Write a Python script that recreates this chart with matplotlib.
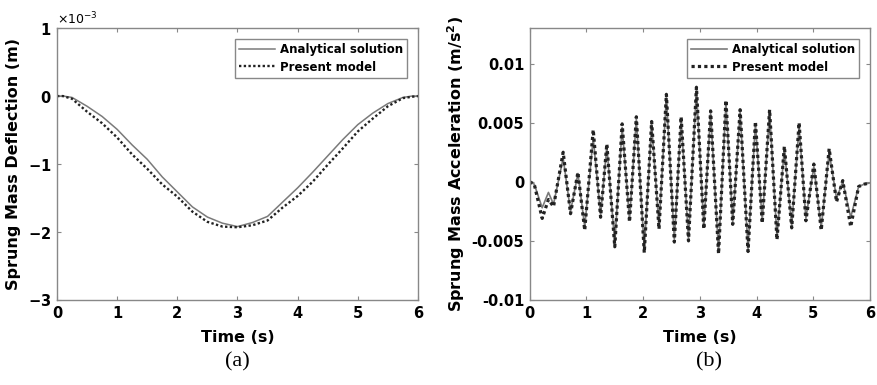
import matplotlib
matplotlib.use("Agg")
import matplotlib.pyplot as plt
from matplotlib.ticker import ScalarFormatter

plt.rcParams['font.family'] = 'DejaVu Sans'
plt.rcParams['axes.unicode_minus'] = False

# (a) sprung mass deflection, values in 1e-3 m
t_defl = [0, 0.1, 0.25, 0.5, 0.75, 1.0, 1.25, 1.5, 1.75, 2.0, 2.25, 2.5, 2.75,
          3.0, 3.25, 3.5, 3.75, 4.0, 4.25, 4.5, 4.75, 5.0, 5.25, 5.5, 5.75, 5.9, 6.0]
defl_analytical = [0, 0, -0.02, -0.15, -0.30, -0.49, -0.72, -0.93, -1.19, -1.41, -1.63,
                   -1.78, -1.87, -1.92, -1.86, -1.77, -1.56, -1.35, -1.12, -0.88, -0.64,
                   -0.42, -0.25, -0.11, -0.02, 0, 0]
defl_present = [0, 0, -0.04, -0.23, -0.40, -0.61, -0.86, -1.07, -1.30, -1.48, -1.70,
                -1.85, -1.92, -1.93, -1.90, -1.83, -1.64, -1.47, -1.26, -1.01, -0.77,
                -0.52, -0.33, -0.15, -0.03, -0.01, 0]

# (b) sprung mass acceleration, m/s^2 (turning points)
t_acc = [0, 0.08, 0.22, 0.33, 0.42, 0.59, 0.72, 0.85, 0.97, 1.12, 1.25, 1.36, 1.50,
         1.63, 1.76, 1.88, 2.02, 2.15, 2.28, 2.41, 2.55, 2.67, 2.80, 2.94, 3.07, 3.19,
         3.33, 3.46, 3.58, 3.71, 3.85, 3.98, 4.10, 4.23, 4.36, 4.49, 4.62, 4.75, 4.87,
         5.01, 5.14, 5.28, 5.41, 5.52, 5.66, 5.80, 5.90, 6.0]
acc_present = [0, -0.0002, -0.0031, -0.0015, -0.0021, 0.0025, -0.0027, 0.0008, -0.0041,
               0.0044, -0.0030, 0.0032, -0.0055, 0.0049, -0.0034, 0.0055, -0.0060, 0.0051,
               -0.0040, 0.0074, -0.0051, 0.0055, -0.0050, 0.0080, -0.0040, 0.0060, -0.0061,
               0.0069, -0.0036, 0.0061, -0.0059, 0.0051, -0.0035, 0.0061, -0.0049, 0.0030,
               -0.0039, 0.0050, -0.0033, 0.0015, -0.0041, 0.0028, -0.0017, 0.0001, -0.0038,
               -0.0004, -0.0002, -0.0001]
acc_analytical = [0, -0.0002, -0.0022, -0.0009, -0.0019, 0.0020, -0.0025, 0.0007, -0.0038,
                  0.0037, -0.0028, 0.0030, -0.0052, 0.0046, -0.0032, 0.0053, -0.0057, 0.0049,
                  -0.0038, 0.0072, -0.0049, 0.0053, -0.0048, 0.0078, -0.0038, 0.0058, -0.0059,
                  0.0067, -0.0034, 0.0059, -0.0057, 0.0049, -0.0033, 0.0059, -0.0047, 0.0028,
                  -0.0037, 0.0047, -0.0031, 0.0013, -0.0039, 0.0025, -0.0014, 0.0000, -0.0030,
                  -0.0004, -0.0002, -0.0001]

acc_ticks = [-0.01, -0.005, 0, 0.005, 0.01]
acc_ticklabels = ['-0.01', '-0.005', '0', '0.005', '0.01']

fig = plt.figure(figsize=(8.77, 3.85), dpi=100)
ax1 = fig.add_axes([0.065, 0.2208, 0.4116, 0.7062])
ax2 = fig.add_axes([0.604, 0.2208, 0.388, 0.7062])

dot = (0, (1, 1))
ax1.plot(t_defl, [v * 1e-3 for v in defl_analytical], color='#7a7a7a', lw=1.1,
         label='Analytical solution')
ax1.plot(t_defl, [v * 1e-3 for v in defl_present], color='#222222', lw=1.7,
         linestyle=dot, label='Present model')
ax1.set_ylim(-3e-3, 1e-3)
ax1.set_yticks([-3e-3, -2e-3, -1e-3, 0, 1e-3])
fmt = ScalarFormatter(useMathText=True)
fmt.set_powerlimits((-2, 2))
ax1.yaxis.set_major_formatter(fmt)
ax1.yaxis.get_offset_text().set_fontsize(9)
ax1.set_ylabel('Sprung Mass Deflection (m)', fontsize=11.5, fontweight='bold', labelpad=5)

ax2.plot(t_acc, acc_analytical, color='#7a7a7a', lw=1.2, label='Analytical solution')
ax2.plot(t_acc, acc_present, color='#222222', lw=2.3, linestyle=dot,
         label='Present model')
ax2.set_ylim(-0.01, 0.013)
ax2.set_yticks(acc_ticks)
ax2.set_yticklabels(acc_ticklabels)
ax2.set_ylabel('Sprung Mass Acceleration (m/s$^\\mathbf{2}$)', fontsize=11.5,
               fontweight='bold', labelpad=3)

for ax in (ax1, ax2):
    ax.set_xlim(0, 6)
    ax.set_xticks(range(7))
    ax.set_xlabel('Time (s)', fontsize=11.5, fontweight='bold', labelpad=7)
    ax.tick_params(direction='in', top=True, right=True, length=3, width=0.8,
                   color='#888888', labelsize=10.5, pad=4)
    for lab in ax.get_xticklabels() + ax.get_yticklabels():
        lab.set_fontweight('bold')
    for s in ax.spines.values():
        s.set_color('#888888')
        s.set_linewidth(1.0)
    leg = ax.legend(loc='upper right', fancybox=False, framealpha=1,
                    edgecolor='#888888', handlelength=3.0, borderpad=0.4,
                    labelspacing=0.35, handletextpad=0.4, borderaxespad=0.9,
                    prop={'weight': 'bold', 'size': 8.5})
    leg.get_frame().set_linewidth(1.0)

fig.text(237 / 877, 1 - 362 / 385, '(a)', family='Liberation Serif', fontsize=16,
         ha='center', va='center')
fig.text(709 / 877, 1 - 362 / 385, '(b)', family='Liberation Serif', fontsize=16,
         ha='center', va='center')

fig.savefig('out.png', dpi=100)
